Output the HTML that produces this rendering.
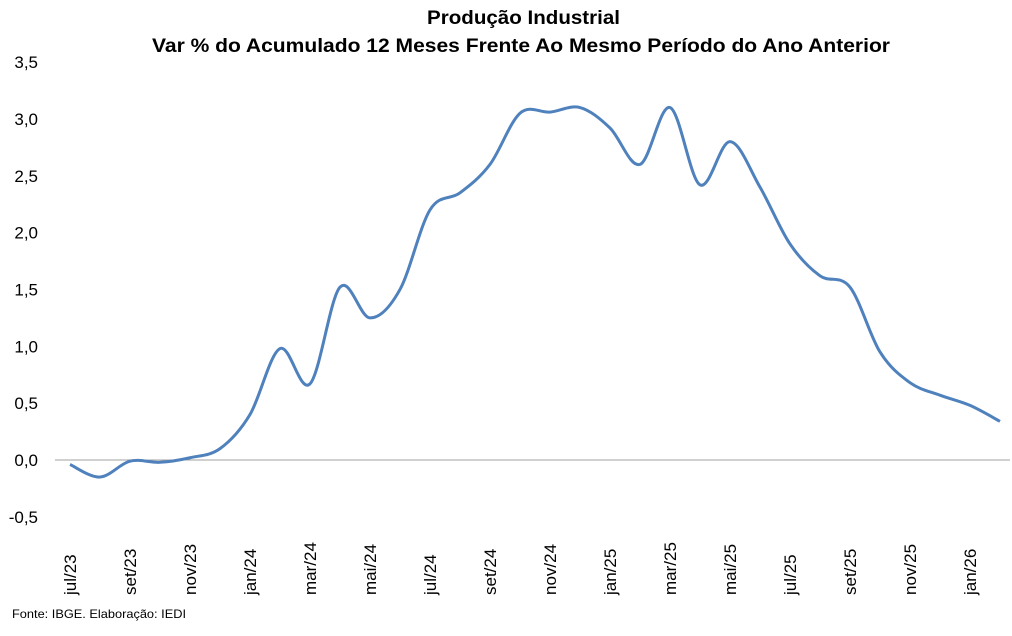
<!DOCTYPE html>
<html><head><meta charset="utf-8"><style>
body{margin:0;background:#fff;width:1012px;height:631px;overflow:hidden;font-family:"Liberation Sans",sans-serif}
</style></head><body>
<svg id="s" width="1012" height="631" xmlns="http://www.w3.org/2000/svg" font-family="Liberation Sans, sans-serif">
<text x="427" y="24" textLength="193" lengthAdjust="spacingAndGlyphs" font-size="19" font-weight="bold" fill="#000">Produção Industrial</text>
<text x="152" y="52" textLength="738" lengthAdjust="spacingAndGlyphs" font-size="19" font-weight="bold" fill="#000">Var % do Acumulado 12 Meses Frente Ao Mesmo Período do Ano Anterior</text>
<line x1="55" y1="460" x2="1010" y2="460" stroke="#a0a0a0" stroke-width="1"/>
<g id="yl" font-size="17" fill="#000" text-anchor="end"></g>
<g id="xl" font-size="17" fill="#000"></g>
<path id="p" fill="none" stroke="#4f81bd" stroke-width="3"/>
<text x="12" y="618" textLength="174" lengthAdjust="spacingAndGlyphs" font-size="12" fill="#000">Fonte: IBGE. Elaboração: IEDI</text>
</svg>
<script>
var ns="http://www.w3.org/2000/svg";
function Y(v){return 460-v*113.7;}
var yl=document.getElementById('yl');
var labs=["-0,5","0,0","0,5","1,0","1,5","2,0","2,5","3,0","3,5"];
for(var i=0;i<9;i++){var t=document.createElementNS(ns,'text');t.setAttribute('x',38);t.setAttribute('y',Y(-0.5+i*0.5)+6);t.textContent=labs[i];yl.appendChild(t);}
var xl=document.getElementById('xl');
var ml=["jul/23","set/23","nov/23","jan/24","mar/24","mai/24","jul/24","set/24","nov/24","jan/25","mar/25","mai/25","jul/25","set/25","nov/25","jan/26"];
for(var i=0;i<ml.length;i++){var x=70+60*i+6;var t=document.createElementNS(ns,'text');t.setAttribute('transform','translate('+x+',595) rotate(-90)');t.textContent=ml[i];xl.appendChild(t);}
var d=[-0.04,-0.15,-0.01,-0.02,0.02,0.1,0.4,0.98,0.67,1.52,1.25,1.5,2.2,2.35,2.6,3.05,3.06,3.1,2.92,2.6,3.1,2.42,2.8,2.4,1.9,1.62,1.52,0.95,0.68,0.57,0.48,0.34];
var P=d.map(function(v,i){return [70+30*i,Y(v)];});
var s="M"+P[0][0]+","+P[0][1];
for(var i=0;i<P.length-1;i++){var p0=P[Math.max(0,i-1)],p1=P[i],p2=P[i+1],p3=P[Math.min(P.length-1,i+2)];
var c1=[p1[0]+(p2[0]-p0[0])/6,p1[1]+(p2[1]-p0[1])/6],c2=[p2[0]-(p3[0]-p1[0])/6,p2[1]-(p3[1]-p1[1])/6];
s+=" C"+c1+" "+c2+" "+p2;}
document.getElementById('p').setAttribute('d',s);
</script>
</body></html>
